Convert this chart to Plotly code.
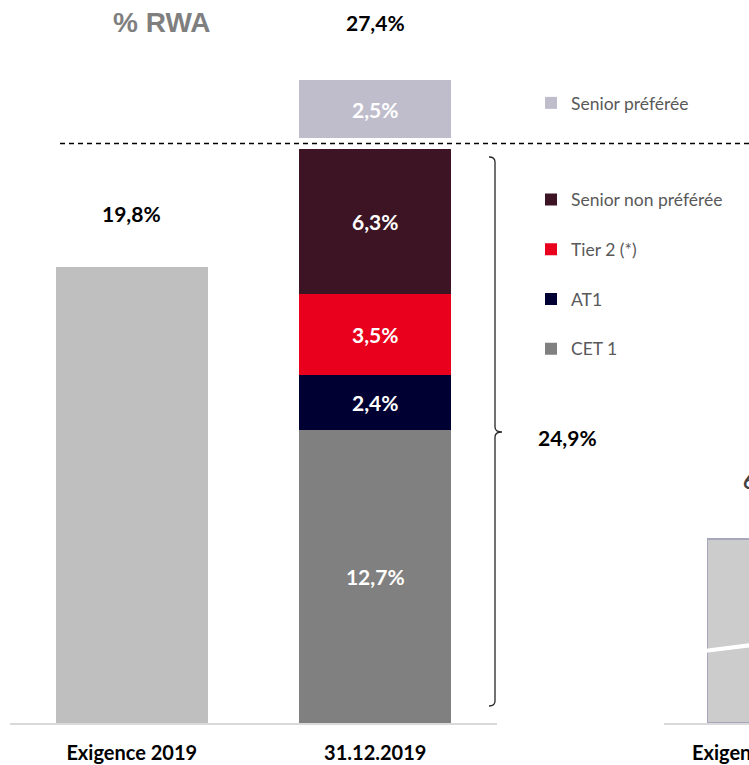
import plotly.graph_objects as go

# ---------------- data ----------------
categories = ["Exigence 2019", "31.12.2019"]
requirement_2019 = 19.8          # % RWA requirement
stack_names = ["CET 1", "AT1", "Tier 2 (*)", "Senior non préférée"]
stack_values = [12.7, 2.4, 3.5, 6.3]   # 31.12.2019 components
senior_pref_name = "Senior préférée"
senior_pref_value = 2.5
right_categories = ["Exigence 2019"]
right_values = [6.0]

# ---------------- style ----------------
W, H = 749, 765
stack_colors = ["#808080", "#000033", "#E8001C", "#3C1423"]
legend_ranks = [4, 3, 2, 1]
sp_color = "#BFBDCC"
req_color = "#BFBFBF"
FONT = "Lato"
BASE_PX = 723            # baseline pixel (from top)
PX_PER_UNIT = 23.05
GAP = 0.48               # visual gap between the two stacks
VAL_SIZE = 21
TICK_SIZE = 20


def fmt(v):
    return f"{v:.1f}".replace(".", ",") + "%"


def fmt_g(v):
    return f"{v:g}".replace(".", ",") + "%"


total = round(sum(stack_values), 1)
grand_total = round(total + senior_pref_value, 1)
yr_max = BASE_PX / PX_PER_UNIT

fig = go.Figure()

# requirement bar
fig.add_trace(go.Bar(
    x=[categories[0]], y=[requirement_2019], width=0.624,
    marker=dict(color=req_color, line=dict(width=0)),
    showlegend=False, hoverinfo="skip",
))

# stacked components
for n, v, c, rk in zip(stack_names, stack_values, stack_colors, legend_ranks):
    fig.add_trace(go.Bar(
        x=[categories[1]], y=[v], name=n, width=0.624,
        marker=dict(color=c, line=dict(width=0)),
        text=[fmt(v)], textposition="inside", insidetextanchor="middle",
        textfont=dict(family=FONT, size=VAL_SIZE, color="white", weight="bold"),
        legend="legend2", legendgroup=n, legendrank=rk,
    ))

# senior preferred, drawn above a gap
fig.add_trace(go.Bar(
    x=[categories[1]], y=[senior_pref_value], base=[total + GAP],
    name=senior_pref_name, width=0.624,
    marker=dict(color=sp_color, line=dict(width=0)),
    text=[fmt(senior_pref_value)], textposition="inside", insidetextanchor="middle",
    textfont=dict(family=FONT, size=VAL_SIZE, color="white", weight="bold"),
    legend="legend", legendgroup="sp",
))

# right-hand panel (cut off)
fig.add_trace(go.Bar(
    x=right_categories, y=right_values, width=0.625,
    marker=dict(color="#CCCCCC", line=dict(color="#A6A6BC", width=1.5)),
    xaxis="x2", yaxis="y2", showlegend=False, hoverinfo="skip",
))

# axis geometry
L0, L1 = 10, 497
R0, R1 = 664, W
s_right = 160.0
r_lo = -(757.5 - R0) / s_right
r_hi = r_lo + (R1 - R0) / s_right

LEG_X = 531 / W
fig.update_layout(
    width=W, height=H, autosize=False,
    margin=dict(l=0, r=0, t=0, b=H - BASE_PX, pad=0),
    paper_bgcolor="white", plot_bgcolor="white",
    barmode="stack",
    font=dict(family=FONT, color="#000000"),
    xaxis=dict(domain=[L0 / W, L1 / W], type="category", range=[-0.5, 1.5],
               showline=True, linecolor="#D9D9D9", linewidth=2,
               showgrid=False, zeroline=False, ticks="",
               tickfont=dict(family=FONT, size=TICK_SIZE, color="#000000", weight="bold"),
               ticklabelstandoff=11),
    yaxis=dict(range=[0, yr_max], visible=False, fixedrange=True),
    xaxis2=dict(domain=[R0 / W, 1], anchor="y2", type="category", range=[r_lo, r_hi],
                showline=True, linecolor="#D9D9D9", linewidth=2,
                showgrid=False, zeroline=False, ticks="", showticklabels=False),
    yaxis2=dict(range=[0, right_values[0] * BASE_PX / 184.0], visible=False,
                anchor="x2", domain=[0, 1]),
    legend=dict(x=LEG_X, xanchor="left", y=(BASE_PX - 103) / BASE_PX, yanchor="middle",
                font=dict(family=FONT, size=17.5, color="#595959"),
                bgcolor="rgba(0,0,0,0)"),
    legend2=dict(x=LEG_X, xanchor="left", y=(BASE_PX - 274) / BASE_PX, yanchor="middle",
                 font=dict(family=FONT, size=17.5, color="#595959"),
                 traceorder="grouped", tracegroupgap=24,
                 bgcolor="rgba(0,0,0,0)"),
    showlegend=True,
)


def ypx(p):  # pixel from top -> data y on primary axis
    return (BASE_PX - p) / PX_PER_UNIT


def xp(p):
    return p / W


shapes = []
# dashed separator
shapes.append(dict(type="line", xref="paper", yref="y", x0=xp(60), x1=1,
                   y0=total + GAP / 2, y1=total + GAP / 2,
                   line=dict(color="#000000", width=1.3, dash="5px,4px")))
# brace
bx = 495
path = (f"M {xp(489)},{ypx(157)} Q {xp(bx)},{ypx(157)} {xp(bx)},{ypx(162)} "
        f"L {xp(bx)},{ypx(427)} Q {xp(bx)},{ypx(432)} {xp(502)},{ypx(432)} "
        f"Q {xp(bx)},{ypx(432)} {xp(bx)},{ypx(437)} "
        f"L {xp(bx)},{ypx(701)} Q {xp(bx)},{ypx(706)} {xp(489)},{ypx(706)}")
shapes.append(dict(type="path", xref="paper", yref="y", path=path,
                   line=dict(color="#262626", width=1.3)))
# axis break mark on right bar
shapes.append(dict(type="line", xref="paper", yref="paper",
                   x0=xp(704), x1=xp(752),
                   y0=(BASE_PX - 651) / BASE_PX, y1=(BASE_PX - 645) / BASE_PX,
                   line=dict(color="white", width=4)))
fig.update_layout(shapes=shapes)

ann = []
ann.append(dict(xref="paper", yref="paper", x=xp(162), y=(BASE_PX - 22) / BASE_PX,
                xanchor="center", yanchor="middle",
                text="% RWA", showarrow=False,
                font=dict(family="Liberation Sans", size=28, color="#7F7F7F", weight="bold")))
ann.append(dict(xref="x", yref="paper", x=categories[1], y=(BASE_PX - 22) / BASE_PX,
                xanchor="center", yanchor="middle",
                text=fmt(grand_total), showarrow=False,
                font=dict(family=FONT, size=VAL_SIZE, color="#000000", weight="bold")))
ann.append(dict(xref="x", yref="y", x=categories[0], y=requirement_2019, yshift=53,
                xanchor="center", yanchor="middle",
                text=fmt(requirement_2019), showarrow=False,
                font=dict(family=FONT, size=VAL_SIZE, color="#000000", weight="bold")))
ann.append(dict(xref="paper", yref="y", x=xp(567), y=ypx(437),
                xanchor="center", yanchor="middle",
                text=fmt(total), showarrow=False,
                font=dict(family=FONT, size=VAL_SIZE, color="#000000", weight="bold")))
# right panel labels (partially outside the page)
rc = (R0 + (0 - r_lo) * s_right) / W
ann.append(dict(xref="paper", yref="y2", x=rc, y=right_values[0], yshift=59,
                xanchor="center", yanchor="middle",
                text=fmt_g(right_values[0]), showarrow=False,
                font=dict(family=FONT, size=VAL_SIZE, color="#404040", weight="bold")))
ann.append(dict(xref="paper", yref="paper", x=rc, y=0, yshift=-29,
                xanchor="center", yanchor="middle",
                text=right_categories[0], showarrow=False,
                font=dict(family=FONT, size=TICK_SIZE, color="#000000", weight="bold")))
fig.update_layout(annotations=ann)

fig.write_html("out.html", config={"displayModeBar": False},
               post_script="document.body.style.margin='0';document.body.style.overflow='hidden';")
